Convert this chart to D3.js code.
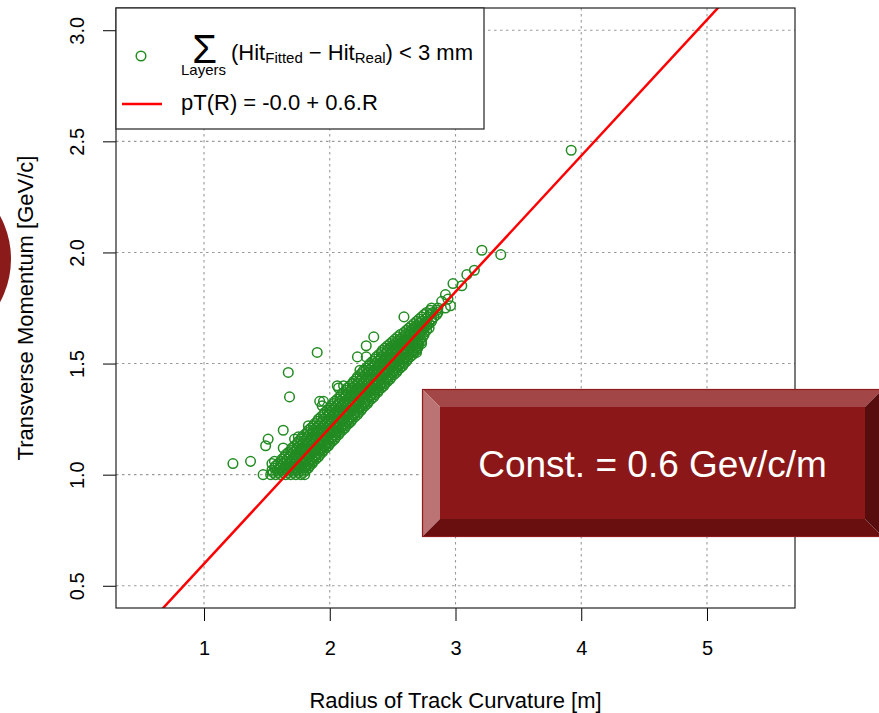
<!DOCTYPE html>
<html><head><meta charset="utf-8">
<script src="https://cdn.jsdelivr.net/npm/d3@7"></script>
<style>
html,body{margin:0;padding:0;background:#fff;overflow:hidden;}
svg{display:block;font-family:"Liberation Sans",Arimo,Arial,Helvetica,sans-serif;}
</style></head><body>
<svg id="chart" width="879" height="713"></svg>
<script>
// ---- data -------------------------------------------------------------
const xTicks = [1, 2, 3, 4, 5];
const yTicks = [0.5, 1.0, 1.5, 2.0, 2.5, 3.0];
const xLimits = [0.5, 5.5];   // plotted range before the usual 4% padding
const yLimits = [0.5, 3.0];

const xTitle = "Radius of Track Curvature [m]";
const yTitle = "Transverse Momentum [GeV/c]";
const badgeText = "Const. = 0.6 Gev/c/m";

// linear fit pT = a + b*R
const fitIntercept = -0.013;
const fitSlope = 0.612;

// dense band of well-fitted tracks, odd pT rows: [pT, [radii...]]
const coreBandOdd = [
  [1.00, [1.53, 1.57, 1.61, 1.65, 1.69, 1.73, 1.77, 1.80]],
  [1.01, [1.55, 1.59, 1.63, 1.67, 1.71, 1.75, 1.79]],
  [1.03, [1.56, 1.60, 1.64, 1.68, 1.72, 1.76, 1.80, 1.83]],
  [1.05, [1.59, 1.63, 1.67, 1.71, 1.75, 1.79, 1.83, 1.86]],
  [1.07, [1.62, 1.66, 1.70, 1.74, 1.78, 1.82, 1.86, 1.89]],
  [1.09, [1.65, 1.69, 1.73, 1.77, 1.81, 1.85, 1.89, 1.92]],
  [1.11, [1.69, 1.73, 1.77, 1.81, 1.85, 1.89, 1.92, 1.95]],
  [1.13, [1.72, 1.76, 1.80, 1.84, 1.88, 1.92, 1.96, 1.99]],
  [1.15, [1.75, 1.79, 1.83, 1.87, 1.91, 1.95, 1.99, 2.02]],
  [1.17, [1.78, 1.82, 1.86, 1.90, 1.94, 1.98, 2.02, 2.05]],
  [1.19, [1.82, 1.86, 1.90, 1.94, 1.98, 2.02, 2.05, 2.08]],
  [1.21, [1.85, 1.89, 1.93, 1.97, 2.01, 2.05, 2.09, 2.12]],
  [1.23, [1.88, 1.92, 1.96, 2.00, 2.04, 2.08, 2.12, 2.15]],
  [1.25, [1.91, 1.95, 1.99, 2.03, 2.07, 2.11, 2.15, 2.18]],
  [1.27, [1.95, 1.99, 2.03, 2.07, 2.11, 2.15, 2.19, 2.22]],
  [1.29, [1.98, 2.02, 2.06, 2.10, 2.14, 2.18, 2.22, 2.25]],
  [1.31, [2.01, 2.05, 2.09, 2.13, 2.17, 2.21, 2.25, 2.28]],
  [1.33, [2.04, 2.08, 2.12, 2.16, 2.20, 2.24, 2.28, 2.31]],
  [1.35, [2.08, 2.12, 2.16, 2.20, 2.24, 2.28, 2.32, 2.35]],
  [1.37, [2.11, 2.15, 2.19, 2.23, 2.27, 2.31, 2.35, 2.38]],
  [1.39, [2.14, 2.18, 2.22, 2.26, 2.30, 2.34, 2.38, 2.41]],
  [1.41, [2.18, 2.22, 2.26, 2.30, 2.34, 2.38, 2.41, 2.44]],
  [1.43, [2.21, 2.25, 2.29, 2.33, 2.37, 2.41, 2.45, 2.48]],
  [1.45, [2.24, 2.28, 2.32, 2.36, 2.40, 2.44, 2.48, 2.51]],
  [1.47, [2.27, 2.31, 2.35, 2.39, 2.43, 2.47, 2.51, 2.54]],
  [1.49, [2.31, 2.35, 2.39, 2.43, 2.47, 2.51, 2.55, 2.58]],
  [1.51, [2.34, 2.38, 2.42, 2.46, 2.50, 2.54, 2.58, 2.61]],
  [1.53, [2.37, 2.41, 2.45, 2.49, 2.53, 2.57, 2.61, 2.64]],
  [1.55, [2.41, 2.45, 2.49, 2.53, 2.57, 2.61, 2.65, 2.67]],
  [1.57, [2.44, 2.48, 2.52, 2.56, 2.60, 2.64, 2.68, 2.70]],
  [1.59, [2.48, 2.52, 2.56, 2.60, 2.64, 2.68, 2.71]],
  [1.61, [2.52, 2.56, 2.60, 2.64, 2.68, 2.72]],
  [1.63, [2.56, 2.60, 2.64, 2.68, 2.72, 2.75]],
  [1.65, [2.61, 2.65, 2.69, 2.73, 2.77]],
  [1.67, [2.65, 2.69, 2.73, 2.77]],
  [1.69, [2.69, 2.73, 2.77, 2.81]],
  [1.71, [2.73, 2.78, 2.83]],
  [1.73, [2.77, 2.82, 2.86]],
  [1.75, [2.81, 2.86]]
];

// dense band, even pT rows: [pT, [radii...]]
const coreBandEven = [
  [1.02, [1.54, 1.58, 1.62, 1.66, 1.70, 1.74, 1.78, 1.81]],
  [1.04, [1.57, 1.61, 1.65, 1.69, 1.73, 1.77, 1.81, 1.84]],
  [1.06, [1.61, 1.65, 1.69, 1.73, 1.77, 1.81, 1.84, 1.87]],
  [1.08, [1.64, 1.68, 1.72, 1.76, 1.80, 1.84, 1.88, 1.91]],
  [1.10, [1.67, 1.71, 1.75, 1.79, 1.83, 1.87, 1.91, 1.94]],
  [1.12, [1.70, 1.74, 1.78, 1.82, 1.86, 1.90, 1.94, 1.97]],
  [1.14, [1.74, 1.78, 1.82, 1.86, 1.90, 1.94, 1.97, 2.00]],
  [1.16, [1.77, 1.81, 1.85, 1.89, 1.93, 1.97, 2.01, 2.04]],
  [1.18, [1.80, 1.84, 1.88, 1.92, 1.96, 2.00, 2.04, 2.07]],
  [1.20, [1.83, 1.87, 1.91, 1.95, 1.99, 2.03, 2.07, 2.10]],
  [1.22, [1.87, 1.91, 1.95, 1.99, 2.03, 2.07, 2.10, 2.13]],
  [1.24, [1.90, 1.94, 1.98, 2.02, 2.06, 2.10, 2.14, 2.17]],
  [1.26, [1.93, 1.97, 2.01, 2.05, 2.09, 2.13, 2.17, 2.20]],
  [1.28, [1.96, 2.00, 2.04, 2.08, 2.12, 2.16, 2.20, 2.23]],
  [1.30, [2.00, 2.04, 2.08, 2.12, 2.16, 2.20, 2.23, 2.26]],
  [1.32, [2.03, 2.07, 2.11, 2.15, 2.19, 2.23, 2.27, 2.30]],
  [1.34, [2.06, 2.10, 2.14, 2.18, 2.22, 2.26, 2.30, 2.33]],
  [1.36, [2.09, 2.13, 2.17, 2.21, 2.25, 2.29, 2.33, 2.36]],
  [1.38, [2.13, 2.17, 2.21, 2.25, 2.29, 2.33, 2.36, 2.39]],
  [1.40, [2.16, 2.20, 2.24, 2.28, 2.32, 2.36, 2.40, 2.43]],
  [1.42, [2.19, 2.23, 2.27, 2.31, 2.35, 2.39, 2.43, 2.46]],
  [1.44, [2.22, 2.26, 2.30, 2.34, 2.38, 2.42, 2.46, 2.49]],
  [1.46, [2.26, 2.30, 2.34, 2.38, 2.42, 2.46, 2.50, 2.53]],
  [1.48, [2.29, 2.33, 2.37, 2.41, 2.45, 2.49, 2.53, 2.56]],
  [1.50, [2.32, 2.36, 2.40, 2.44, 2.48, 2.52, 2.56, 2.59]],
  [1.52, [2.36, 2.40, 2.44, 2.48, 2.52, 2.56, 2.59, 2.62]],
  [1.54, [2.39, 2.43, 2.47, 2.51, 2.55, 2.59, 2.63, 2.66]],
  [1.56, [2.42, 2.46, 2.50, 2.54, 2.58, 2.62, 2.66, 2.69]],
  [1.58, [2.46, 2.50, 2.54, 2.58, 2.62, 2.66, 2.70]],
  [1.60, [2.50, 2.54, 2.58, 2.62, 2.66, 2.70, 2.73]],
  [1.62, [2.54, 2.58, 2.62, 2.66, 2.70, 2.74]],
  [1.64, [2.59, 2.63, 2.67, 2.71, 2.75]],
  [1.66, [2.63, 2.67, 2.71, 2.75, 2.79]],
  [1.68, [2.67, 2.71, 2.75, 2.79]],
  [1.70, [2.71, 2.76, 2.81]],
  [1.72, [2.75, 2.80, 2.85]],
  [1.74, [2.80, 2.85]]
];

// scattered tracks away from the band: [R, pT]
const looseTracks = [
  [1.23, 1.05], [1.37, 1.06], [1.47, 1.00], [1.49, 1.13], [1.51, 1.16],
  [1.54, 1.05], [1.56, 1.06], [1.63, 1.12], [1.63, 1.20], [1.67, 1.46],
  [1.68, 1.35], [1.72, 1.16], [1.75, 1.17], [1.83, 1.22], [1.90, 1.55],
  [1.92, 1.33], [1.94, 1.31], [1.95, 1.33], [2.06, 1.40], [2.07, 1.39],
  [2.11, 1.40], [2.18, 1.41], [2.22, 1.53], [2.24, 1.47], [2.29, 1.53],
  [2.29, 1.58], [2.35, 1.62], [2.59, 1.71], [2.69, 1.55], [2.73, 1.59],
  [2.89, 1.78], [2.92, 1.75], [2.92, 1.81], [2.94, 1.79], [2.96, 1.76],
  [2.98, 1.86], [3.05, 1.85], [3.09, 1.90], [3.15, 1.92], [3.21, 2.01],
  [3.36, 1.99], [3.92, 2.46]
];

// ---- layout -------------------------------------------------------------
const svg = d3.select("#chart");
const W = 879, H = 713;
const plot = {left: 116, right: 795, top: 8, bottom: 608};
const FONT = 22, TICK_FONT = 20;
const GREEN = "#228B22";
const PT_R = 4.8, PT_W = 1.5;

const pad = (lim) => { const d = (lim[1] - lim[0]) * 0.04; return [lim[0] - d, lim[1] + d]; };
const x = d3.scaleLinear().domain(pad(xLimits)).range([plot.left, plot.right]);
const y = d3.scaleLinear().domain(pad(yLimits)).range([plot.bottom, plot.top]);

svg.append("rect").attr("width", W).attr("height", H).attr("fill", "#fff");

// decorative disc at the left margin
svg.append("circle").attr("cx", -80).attr("cy", 259).attr("r", 91).attr("fill", "#8B1A1A");

svg.append("defs").append("clipPath").attr("id", "plotClip")
  .append("rect").attr("x", plot.left).attr("y", plot.top)
  .attr("width", plot.right - plot.left).attr("height", plot.bottom - plot.top);

// grid
const grid = svg.append("g").attr("stroke", "#9a9a9a").attr("stroke-width", 1.1)
  .attr("stroke-dasharray", "2.5,3.5");
grid.selectAll("line.v").data(xTicks).join("line").attr("class", "v")
  .attr("x1", d => x(d)).attr("x2", d => x(d)).attr("y1", plot.top).attr("y2", plot.bottom);
grid.selectAll("line.h").data(yTicks).join("line").attr("class", "h")
  .attr("y1", d => y(d)).attr("y2", d => y(d)).attr("x1", plot.left).attr("x2", plot.right);

// points
const points = [];
[coreBandOdd, coreBandEven].forEach(rows =>
  rows.forEach(([pt, radii]) => radii.forEach(r => points.push([r, pt]))));
looseTracks.forEach(p => points.push(p));

svg.append("g").attr("clip-path", "url(#plotClip)")
  .selectAll("circle").data(points).join("circle")
  .attr("cx", d => x(d[0])).attr("cy", d => y(d[1])).attr("r", PT_R)
  .attr("fill", "none").attr("stroke", GREEN).attr("stroke-width", PT_W);

// fitted line
const xd = x.domain();
svg.append("line").attr("clip-path", "url(#plotClip)")
  .attr("x1", x(xd[0])).attr("y1", y(fitIntercept + fitSlope * xd[0]))
  .attr("x2", x(xd[1])).attr("y2", y(fitIntercept + fitSlope * xd[1]))
  .attr("stroke", "#ff0000").attr("stroke-width", 2.5);

// axes
const xAxis = svg.append("g").attr("transform", `translate(0,${plot.bottom})`)
  .call(d3.axisBottom(x).tickValues(xTicks).tickSize(13).tickPadding(20).tickFormat(d3.format("d")));
xAxis.select(".domain").remove();
xAxis.selectAll("line").attr("stroke", "#000");
xAxis.selectAll("text").attr("font-size", TICK_FONT).attr("font-family", null).attr("fill", "#000");

const yAxis = svg.append("g").attr("transform", `translate(${plot.left},0)`)
  .call(d3.axisLeft(y).tickValues(yTicks).tickSize(13).tickFormat(d3.format(".1f")));
yAxis.select(".domain").remove();
yAxis.selectAll("line").attr("stroke", "#000");
yAxis.selectAll("text")
  .attr("font-size", TICK_FONT).attr("font-family", null).attr("fill", "#000")
  .attr("x", null).attr("dy", null)
  .attr("text-anchor", "middle")
  .attr("transform", "translate(-32.5,0) rotate(-90)");

// frame
svg.append("rect").attr("x", plot.left).attr("y", plot.top)
  .attr("width", plot.right - plot.left).attr("height", plot.bottom - plot.top)
  .attr("fill", "none").attr("stroke", "#222").attr("stroke-width", 1.2);

// axis titles
svg.append("text").attr("x", (plot.left + plot.right) / 2).attr("y", 708)
  .attr("text-anchor", "middle").attr("font-size", FONT).text(xTitle);
svg.append("text").attr("transform", `translate(33,${(plot.top + plot.bottom) / 2}) rotate(-90)`)
  .attr("text-anchor", "middle").attr("font-size", FONT).text(yTitle);

// legend
const lg = svg.append("g");
lg.append("rect").attr("x", plot.left).attr("y", plot.top).attr("width", 368).attr("height", 121)
  .attr("fill", "#fff").attr("stroke", "#222").attr("stroke-width", 1.2);
lg.append("circle").attr("cx", 141).attr("cy", 56).attr("r", PT_R)
  .attr("fill", "none").attr("stroke", GREEN).attr("stroke-width", PT_W);

// summation sign with its "Layers" index, set as one text block
const sum = lg.append("text").attr("font-size", 15);
sum.append("tspan").attr("x", 204.5).attr("y", 62.5).attr("font-size", 40)
  .attr("text-anchor", "middle").text("\u03A3");
sum.append("tspan").attr("x", 181).attr("y", 75).attr("text-anchor", "start").text("Layers");

const eq = lg.append("text").attr("x", 231).attr("y", 60).attr("font-size", FONT);
eq.append("tspan").text("(Hit");
eq.append("tspan").attr("font-size", 15).attr("dy", 3).text("Fitted");
eq.append("tspan").attr("dy", -3).text(" \u2212 Hit");
eq.append("tspan").attr("font-size", 15).attr("dy", 3).text("Real");
eq.append("tspan").attr("dy", -3).text(") < 3 mm");

lg.append("line").attr("x1", 122).attr("x2", 162).attr("y1", 104).attr("y2", 104)
  .attr("stroke", "#ff0000").attr("stroke-width", 2.5);
const f1 = v => v.toFixed(1);
lg.append("text").attr("x", 181).attr("y", 110).attr("font-size", FONT)
  .text(`pT(R) = ${f1(fitIntercept)} + ${f1(fitSlope)}.R`);

// bevelled badge
const o = {x0: 422.5, y0: 389.5, x1: 882.5, y1: 536.5};
const bev = 17.5;
const i = {x0: o.x0 + bev, y0: o.y0 + bev, x1: o.x1 - bev, y1: o.y1 - bev};
const badge = svg.append("g");
const poly = (pts, fill) => badge.append("polygon")
  .attr("points", pts.map(p => p.join(",")).join(" ")).attr("fill", fill);
badge.append("rect").attr("x", i.x0).attr("y", i.y0).attr("width", i.x1 - i.x0).attr("height", i.y1 - i.y0)
  .attr("fill", "#8B1718");
poly([[o.x0, o.y0], [o.x1, o.y0], [i.x1, i.y0], [i.x0, i.y0]], "#A34647");
poly([[o.x0, o.y0], [i.x0, i.y0], [i.x0, i.y1], [o.x0, o.y1]], "#BC7373");
poly([[o.x0, o.y1], [i.x0, i.y1], [i.x1, i.y1], [o.x1, o.y1]], "#6A0F10");
poly([[o.x1, o.y0], [o.x1, o.y1], [i.x1, i.y1], [i.x1, i.y0]], "#570C0D");
badge.append("rect").attr("x", o.x0).attr("y", o.y0).attr("width", o.x1 - o.x0).attr("height", o.y1 - o.y0)
  .attr("fill", "none").attr("stroke", "#8E1C1C").attr("stroke-width", 1.2);
badge.append("text").attr("x", 652.5).attr("y", 477).attr("text-anchor", "middle")
  .attr("font-size", 37).attr("fill", "#fff").text(badgeText);
</script>
</body></html>
